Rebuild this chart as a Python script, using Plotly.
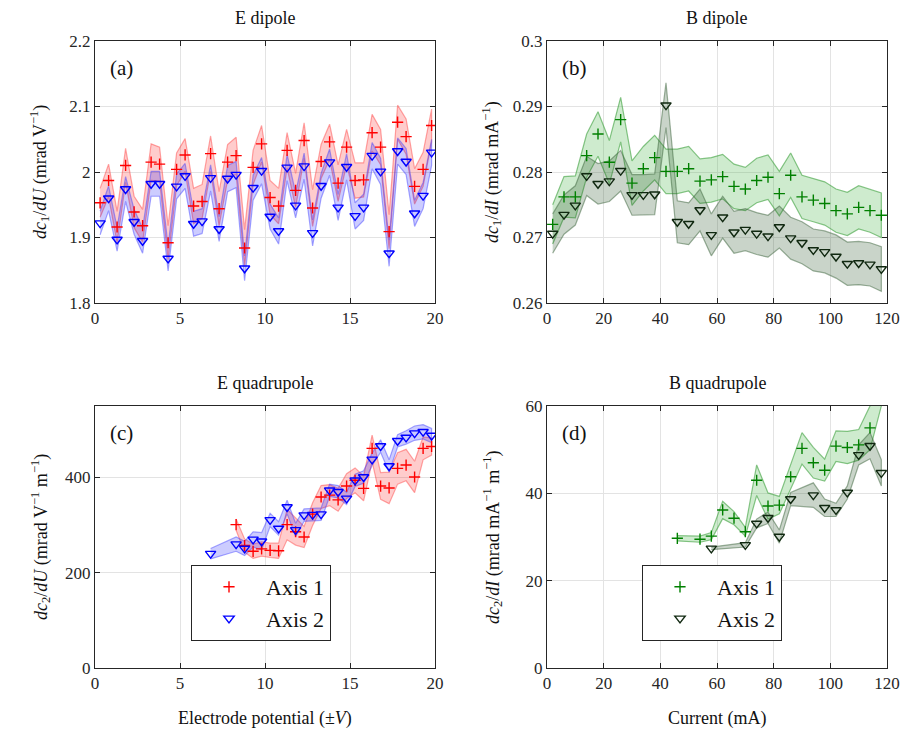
import plotly.graph_objects as go

# ---------------- data ----------------
# Panel (a): E dipole
xa = [0.3 + 0.5 * k for k in range(40)]
a1 = [1.953, 1.987, 1.916, 2.010, 1.939, 1.918, 2.015, 2.012, 1.892, 2.004,
      2.026, 1.948, 1.955, 2.028, 1.944, 2.015, 2.025, 1.884, 2.007, 2.043,
      1.961, 1.948, 2.033, 1.972, 2.048, 1.945, 2.016, 2.046, 1.983, 2.038,
      1.987, 1.988, 2.060, 2.038, 1.909, 2.076, 2.054, 1.978, 2.004, 2.071]
a2 = [1.922, 1.960, 1.897, 1.974, 1.924, 1.895, 1.982, 1.982, 1.868, 1.978,
      1.994, 1.921, 1.925, 1.991, 1.913, 1.990, 1.996, 1.853, 1.976, 2.002,
      1.932, 1.910, 2.007, 1.949, 2.009, 1.907, 1.979, 2.015, 1.946, 2.008,
      1.933, 1.946, 2.025, 2.001, 1.876, 2.032, 2.016, 1.937, 1.964, 2.030]
a1_err = [0.022, 0.025, 0.024, 0.026, 0.024, 0.025, 0.028, 0.026, 0.026, 0.025,
          0.025, 0.027, 0.026, 0.027, 0.026, 0.027, 0.028, 0.028, 0.026, 0.028,
          0.026, 0.027, 0.027, 0.026, 0.027, 0.028, 0.026, 0.027, 0.028, 0.027,
          0.027, 0.026, 0.028, 0.027, 0.026, 0.026, 0.027, 0.027, 0.026, 0.025]
a2_err = [0.018, 0.019, 0.018, 0.019, 0.019, 0.019, 0.019, 0.019, 0.019, 0.019,
          0.019, 0.019, 0.019, 0.020, 0.019, 0.020, 0.020, 0.019, 0.019, 0.020,
          0.019, 0.020, 0.020, 0.019, 0.020, 0.020, 0.019, 0.020, 0.020, 0.020,
          0.020, 0.020, 0.020, 0.020, 0.020, 0.020, 0.020, 0.020, 0.020, 0.020]

# Panel (b): B dipole
xb = [2 + 4 * k for k in range(30)]
b1 = [0.2720, 0.2762, 0.2762, 0.2825, 0.2858, 0.2815, 0.2880, 0.2783, 0.2805, 0.2822,
      0.2801, 0.2801, 0.2805, 0.2786, 0.2788, 0.2793, 0.2778, 0.2774, 0.2787, 0.2792,
      0.2767, 0.2795, 0.2762, 0.2757, 0.2752, 0.2741, 0.2736, 0.2746, 0.2741, 0.2734]
b2 = [0.2706, 0.2735, 0.2749, 0.2794, 0.2782, 0.2786, 0.2802, 0.2765, 0.2765, 0.2766,
      0.2902, 0.2724, 0.2721, 0.2742, 0.2704, 0.2731, 0.2708, 0.2712, 0.2706, 0.2702,
      0.2716, 0.2699, 0.2692, 0.2681, 0.2678, 0.2671, 0.2660, 0.2661, 0.2659, 0.2652]
b1_err = [0.0030, 0.0031, 0.0032, 0.0033, 0.0034, 0.0033, 0.0034, 0.0034, 0.0034, 0.0034,
          0.0034, 0.0034, 0.0034, 0.0034, 0.0034, 0.0034, 0.0034, 0.0033, 0.0034, 0.0034,
          0.0034, 0.0034, 0.0033, 0.0033, 0.0033, 0.0033, 0.0033, 0.0033, 0.0033, 0.0034]
b2_err = [0.0030, 0.0030, 0.0030, 0.0030, 0.0031, 0.0031, 0.0031, 0.0031, 0.0031, 0.0031,
          0.0034, 0.0032, 0.0032, 0.0032, 0.0032, 0.0032, 0.0032, 0.0032, 0.0032, 0.0032,
          0.0032, 0.0032, 0.0032, 0.0032, 0.0032, 0.0033, 0.0033, 0.0033, 0.0033, 0.0034]

# Panel (c): E quadrupole
xc1 = [8.3 + 0.5 * k for k in range(24)]
c1 = [301, 257, 245, 250, 247, 246, 301, 286, 275, 323, 359, 363,
      353, 382, 394, 377, 461, 382, 378, 419, 426, 401, 461, 465]
c1_err = [12, 14, 15, 15, 15, 16, 32, 28, 22, 24, 24, 22,
          24, 26, 26, 26, 28, 28, 33, 33, 33, 33, 24, 18]
xc2 = [6.8] + [8.3 + 0.5 * k for k in range(24)]
c2 = [240, 260, 251, 270, 266, 311, 293, 338, 290, 321, 322, 323, 373,
      370, 356, 394, 401, 438, 466, 424, 477, 484, 493, 496, 488]
c2_err = [11, 15, 15, 16, 18, 14, 14, 14, 14, 13, 13, 13, 13,
          13, 13, 13, 13, 13, 13, 13, 13, 14, 15, 15, 15]

# Panel (d): B quadrupole
xd1 = [46, 54, 58, 62, 66, 70, 74, 78, 82, 86, 90, 94, 98, 102, 106, 110, 114, 118]
d1 = [29.7, 29.5, 30.2, 36.2, 34.3, 31.2, 43.0, 37.1, 37.3, 43.8, 50.3, 47.0,
      45.3, 50.8, 50.5, 51.1, 55.0, 64.0]
d1_err = [0.6, 0.7, 0.8, 2.0, 1.5, 1.0, 3.5, 3.0, 2.0, 3.0, 3.6, 3.5,
          2.5, 3.5, 3.7, 3.5, 5.0, 4.0]
xd2 = [58, 70, 74, 78, 82, 86, 94, 98, 102, 106, 110, 114, 118]
d2 = [27.4, 28.2, 33.1, 34.4, 30.1, 38.7, 39.6, 36.7, 36.2, 40.2, 48.8, 50.9, 44.7]
d2_err = [0.3, 0.5, 1.0, 1.3, 1.5, 1.5, 2.8, 2.0, 1.5, 1.5, 2.3, 3.0, 3.0]

titles = ["E dipole", "B dipole", "E quadrupole", "B quadrupole"]
panel_labels = ["(a)", "(b)", "(c)", "(d)"]
legend_names = ["Axis 1", "Axis 2"]

# ---------------- styles ----------------
FONT = "Liberation Serif, DejaVu Serif, Times New Roman, serif"
W, H = 905, 740
RED = "#ff0000"
BLUE = "#0000ff"
GREEN = "#008000"
DARK = "#102810"

fig = go.Figure()


def band(x, y, e, xa_, ya_, fill, edge):
    up = [v + d for v, d in zip(y, e)]
    lo = [v - d for v, d in zip(y, e)]
    fig.add_trace(go.Scatter(
        x=list(x) + list(x)[::-1], y=up + lo[::-1], xaxis=xa_, yaxis=ya_,
        mode="lines", fill="toself", fillcolor=fill,
        line=dict(color=edge, width=1.2), showlegend=False, hoverinfo="skip"))


def markers(x, y, xa_, ya_, symbol, color, name, legend, show, size):
    fig.add_trace(go.Scatter(
        x=x, y=y, xaxis=xa_, yaxis=ya_, mode="markers", name=name,
        marker=dict(symbol=symbol, size=size, color=color,
                    line=dict(color=color, width=1.4)),
        showlegend=show, legend=legend))


RF, RE = "rgba(255,0,0,0.20)", "rgba(255,60,60,0.45)"
BF, BE = "rgba(0,0,255,0.20)", "rgba(60,60,255,0.45)"
GF, GE = "rgba(60,175,60,0.25)", "rgba(60,160,60,0.60)"
DF, DE = "rgba(40,85,40,0.25)", "rgba(60,100,60,0.50)"
PS, TS = 8, 9

# (a)
band(xa, a1, a1_err, "x", "y", RF, RE)
band(xa, a2, a2_err, "x", "y", BF, BE)
markers(xa, a1, "x", "y", "cross-thin-open", RED, legend_names[0], "legend", False, PS)
markers(xa, a2, "x", "y", "triangle-down-open", BLUE, legend_names[1], "legend", False, TS)
# (b)
band(xb, b1, b1_err, "x2", "y2", GF, GE)
band(xb, b2, b2_err, "x2", "y2", DF, DE)
markers(xb, b1, "x2", "y2", "cross-thin-open", GREEN, legend_names[0], "legend2", False, PS)
markers(xb, b2, "x2", "y2", "triangle-down-open", DARK, legend_names[1], "legend2", False, TS)
# (c)
band(xc1, c1, c1_err, "x3", "y3", RF, RE)
band(xc2, c2, c2_err, "x3", "y3", BF, BE)
markers(xc1, c1, "x3", "y3", "cross-thin-open", RED, legend_names[0], "legend", True, PS)
markers(xc2, c2, "x3", "y3", "triangle-down-open", BLUE, legend_names[1], "legend", True, TS)
# (d)
band(xd1, d1, d1_err, "x4", "y4", GF, GE)
band(xd2, d2, d2_err, "x4", "y4", DF, DE)
markers(xd1, d1, "x4", "y4", "cross-thin-open", GREEN, legend_names[0], "legend2", True, PS)
markers(xd2, d2, "x4", "y4", "triangle-down-open", DARK, legend_names[1], "legend2", True, TS)

# ---------------- layout ----------------
left_px = [(95, 435), (547, 887)]
top_px = [(41, 303), (406, 668)]


def xdom(c):
    return [left_px[c][0] / W, left_px[c][1] / W]


def ydom(r):
    return [(H - top_px[r][1]) / H, (H - top_px[r][0]) / H]


axstyle = dict(showline=True, linecolor="#262626", linewidth=1, mirror="allticks",
               ticks="inside", ticklen=5, tickcolor="#262626", showgrid=True,
               gridcolor="#e3e3e3", gridwidth=1, zeroline=False, automargin=False,
               tickfont=dict(family=FONT, size=17, color="#262626"))

legstyle = dict(xanchor="left", yanchor="top", bgcolor="white", bordercolor="#262626",
                borderwidth=1, font=dict(family=FONT, size=22, color="#111111"),
                itemwidth=64, tracegroupgap=0)

fig.update_layout(
    width=W, height=H, margin=dict(l=0, r=0, t=0, b=0, autoexpand=False),
    plot_bgcolor="white", paper_bgcolor="white",
    font=dict(family=FONT, color="#262626"),
    xaxis=dict(domain=xdom(0), anchor="y", range=[0, 20], tickvals=[0, 5, 10, 15, 20], **axstyle),
    yaxis=dict(domain=ydom(0), anchor="x", range=[1.8, 2.2], tickvals=[1.8, 1.9, 2.0, 2.1, 2.2], **axstyle),
    xaxis2=dict(domain=xdom(1), anchor="y2", range=[0, 120], tickvals=[0, 20, 40, 60, 80, 100, 120], **axstyle),
    yaxis2=dict(domain=ydom(0), anchor="x2", range=[0.26, 0.30], tickvals=[0.26, 0.27, 0.28, 0.29, 0.30], **axstyle),
    xaxis3=dict(domain=xdom(0), anchor="y3", range=[0, 20], tickvals=[0, 5, 10, 15, 20], **axstyle),
    yaxis3=dict(domain=ydom(1), anchor="x3", range=[0, 550], tickvals=[0, 200, 400], **axstyle),
    xaxis4=dict(domain=xdom(1), anchor="y4", range=[0, 120], tickvals=[0, 20, 40, 60, 80, 100, 120], **axstyle),
    yaxis4=dict(domain=ydom(1), anchor="x4", range=[0, 60], tickvals=[0, 20, 40, 60], **axstyle),
    legend=dict(x=191 / W, y=(H - 565) / H, **legstyle),
    legend2=dict(x=642 / W, y=(H - 565) / H, **legstyle),
)

ann = []
centers_x = [(95 + 435) / 2, (547 + 887) / 2]
title_y = [18, 383]
for i, t in enumerate(titles):
    r, c = divmod(i, 2)
    ann.append(dict(text=t, x=centers_x[c] / W, y=(H - title_y[r]) / H, xref="paper", yref="paper",
                    showarrow=False, xanchor="center", yanchor="middle",
                    font=dict(family=FONT, size=18, color="#111111")))
    ann.append(dict(text=panel_labels[i], x=(left_px[c][0] + 13) / W, y=(H - (top_px[r][0] + 27)) / H,
                    xref="paper", yref="paper", showarrow=False, xanchor="left", yanchor="middle",
                    font=dict(family=FONT, size=21, color="#111111")))

ytitles = ["<i>dc</i><sub>1</sub>/<i>dU</i> (mrad V<sup>−1</sup>)",
           "<i>dc</i><sub>1</sub>/<i>dI</i> (mrad mA<sup>−1</sup>)",
           "<i>dc</i><sub>2</sub>/<i>dU</i> (mrad V<sup>−1</sup> m<sup>−1</sup>)",
           "<i>dc</i><sub>2</sub>/<i>dI</i> (mrad mA<sup>−1</sup> m<sup>−1</sup>)"]
ytitle_x = [40, 492]
for i, t in enumerate(ytitles):
    r, c = divmod(i, 2)
    ann.append(dict(text=t, x=ytitle_x[c] / W, y=(H - (top_px[r][0] + top_px[r][1]) / 2) / H,
                    xref="paper", yref="paper", showarrow=False, textangle=-90,
                    xanchor="center", yanchor="middle",
                    font=dict(family=FONT, size=18, color="#111111")))

xtitles = ["Electrode potential (±<i>V</i>)", "Current (mA)"]
for c, t in enumerate(xtitles):
    ann.append(dict(text=t, x=centers_x[c] / W, y=(H - 718) / H, xref="paper", yref="paper",
                    showarrow=False, xanchor="center", yanchor="middle",
                    font=dict(family=FONT, size=18, color="#111111")))

fig.update_layout(annotations=ann)
fig.write_html("out.html", config={"displayModeBar": False},
               post_script="document.body.style.margin='0';document.body.style.padding='0';")
